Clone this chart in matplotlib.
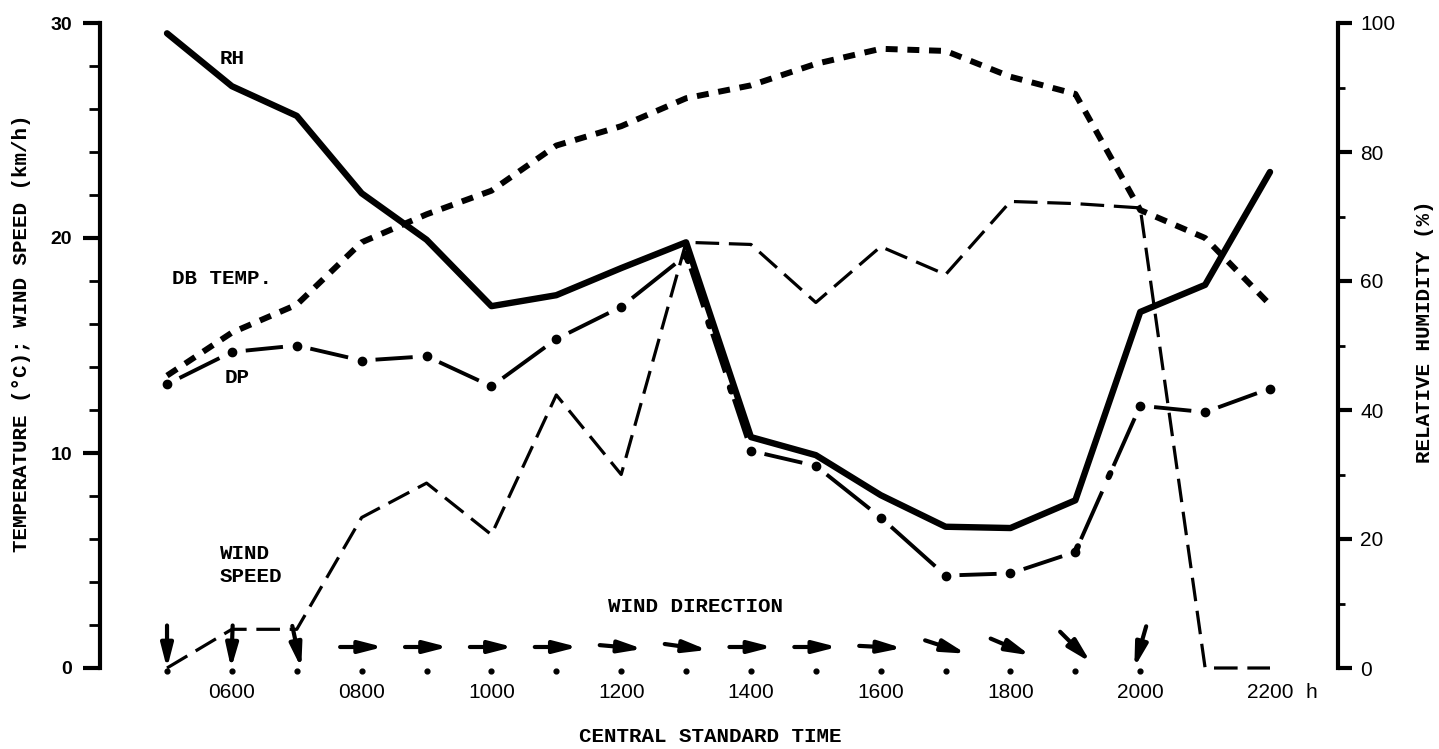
import matplotlib
matplotlib.use('Agg')
import matplotlib.pyplot as plt
from matplotlib.transforms import offset_copy
from matplotlib.ticker import MultipleLocator, FixedLocator
import numpy as np

# ---------------- data ----------------
hours = list(range(5, 23))  # 0500 ... 2200 CST
rh = [98.4, 90.2, 85.6, 73.6, 66.4, 56.1, 57.8, 62.0, 66.0, 35.8,
      33.0, 26.8, 21.9, 21.7, 26.0, 55.2, 59.4, 76.9]
db_temp = [13.6, 15.6, 16.9, 19.8, 21.1, 22.2, 24.3, 25.2, 26.5, 27.1,
           28.1, 28.8, 28.7, 27.5, 26.7, 21.3, 20.0, 16.9]
dew_point = [13.2, 14.7, 15.0, 14.3, 14.5, 13.1, 15.3, 16.8, 19.2, 10.1,
             9.4, 7.0, 4.3, 4.4, 5.4, 12.2, 11.9, 13.0]
wind_speed = [0.0, 1.8, 1.8, 7.0, 8.6, 6.2, 12.7, 9.0, 19.8, 19.7,
              17.0, 19.6, 18.3, 21.7, 21.6, 21.4, 0.0, 0.0]
# direction each arrow points (deg, 0 = right, -90 = down); None = calm
wind_dir = [-90, -92, -78, 0, 0, 0, 0, -5, -8, 0,
            0, -3, -18, -23, -45, -106, None, None]
xtick_pos = [6, 8, 10, 12, 14, 16, 18, 20, 22]
xtick_labels = ['0600', '0800', '1000', '1200', '1400', '1600', '1800', '2000', '2200']

plt.rcParams['lines.scale_dashes'] = False
MONO = ['Liberation Mono', 'DejaVu Sans Mono']
SANS = ['Liberation Sans', 'DejaVu Sans']

W, H = 1439, 749
fig = plt.figure(figsize=(W / 100, H / 100), dpi=100)
fig.patch.set_facecolor('white')

def fx(px):
    return px / W

def fy(py):
    return 1 - py / H

ax = fig.add_axes([fx(100), fy(668), fx(1338) - fx(100), fy(23) - fy(668)])
ax.set_xlim(3.967, 23.048)
ax.set_ylim(0, 30)
ax2 = ax.twinx()
ax2.set_ylim(0, 100)

for a in (ax, ax2):
    a.spines['top'].set_visible(False)
    a.spines['bottom'].set_visible(False)
    a.patch.set_visible(False)
ax.spines['right'].set_visible(False)
ax2.spines['left'].set_visible(False)
ax.spines['left'].set_linewidth(3)
ax2.spines['right'].set_linewidth(3)

# left axis ticks
ax.yaxis.set_major_locator(FixedLocator([0, 10, 20, 30]))
ax.yaxis.set_minor_locator(MultipleLocator(2))
ax.tick_params(axis='y', which='major', direction='out', length=12, width=3, pad=8)
ax.tick_params(axis='y', which='minor', direction='out', length=8, width=2)
for t in ax.get_yticklabels():
    t.set_fontfamily(SANS)
    t.set_fontweight('bold')
    t.set_fontsize(14)

# right axis ticks
ax2.yaxis.set_major_locator(FixedLocator([0, 20, 40, 60, 80, 100]))
ax2.yaxis.set_minor_locator(FixedLocator([10, 30, 50, 70, 90]))
ax2.tick_params(axis='y', which='major', direction='out', length=10, width=3, pad=6)
ax2.tick_params(axis='y', which='minor', direction='out', length=5, width=2)
for t in ax2.get_yticklabels():
    t.set_fontfamily(SANS)
    t.set_fontsize(15)

# x ticks
ax.set_xticks(xtick_pos)
ax.set_xticklabels(xtick_labels, fontfamily=SANS, fontsize=15)
ax.tick_params(axis='x', length=0, pad=11)

# ---------------- lines ----------------
# RH (solid, thick) on right axis
ax2.plot(hours, rh, color='black', lw=4.6, solid_joinstyle='round',
         solid_capstyle='round', zorder=5)

# DB temperature (short heavy dashes)
ax.plot(hours, db_temp, color='black', lw=4.3, linestyle=(0, (8.6, 7.0)),
        zorder=4)

# wind speed (long dashes)
ax.plot(hours, wind_speed, color='black', lw=2.3, linestyle=(0, (17, 7)),
        clip_on=False, zorder=3)

# dew point: one dash between consecutive points, dots at the points
gap = 10.0
unit = 52.0  # points per dash unit
pts = ax.transData.transform(np.column_stack([hours, dew_point]))
for i in range(len(hours) - 1):
    (x0, y0), (x1, y1) = pts[i], pts[i + 1]
    L = np.hypot(x1 - x0, y1 - y0) * 72 / fig.dpi
    n = max(1, int(round(L / unit)))
    D = max(L / n - 2 * gap, 2.0)
    ax.plot(hours[i:i + 2], dew_point[i:i + 2], color='black', lw=2.8,
            linestyle=(D + gap + 0.1, (D, gap, 0.1, gap)),
            dash_capstyle='butt', zorder=4)
    if n > 1:
        # small dot inside long dashed segments (drawn by a second pattern)
        ax.plot(hours[i:i + 2], dew_point[i:i + 2], color='black', lw=4.5,
                linestyle=(D + 2 * gap + 0.1 - 1.5, (3.0, D + 2 * gap - 3.0)),
                dash_capstyle='round', zorder=4)
ax.plot(hours, dew_point, linestyle='none', marker='o', markersize=6,
        color='black', zorder=6)

# ---------------- wind direction arrows ----------------
trans = ax.get_xaxis_transform()
yf = (668 - 647) / 645
Lh = 15.5
for h, ang in zip(hours, wind_dir):
    if ang is None:
        continue
    dx = Lh * np.cos(np.radians(ang))
    dy = Lh * np.sin(np.radians(ang))
    ax.annotate('', xy=(h, yf),
                xycoords=offset_copy(trans, fig=fig, x=dx, y=dy, units='points'),
                xytext=(h, yf),
                textcoords=offset_copy(trans, fig=fig, x=-dx, y=-dy, units='points'),
                arrowprops=dict(arrowstyle='-|>,head_length=0.7,head_width=0.18',
                                lw=3, color='black', mutation_scale=20,
                                shrinkA=0, shrinkB=0),
                annotation_clip=False)
dot_hours = [h for h, a in zip(hours, wind_dir) if a is not None]
ax.scatter(dot_hours, [-0.004] * len(dot_hours), transform=trans, s=12,
           color='black', clip_on=False, zorder=6)

# ---------------- text ----------------
tk = dict(fontfamily=MONO, fontweight='bold', fontsize=15, color='black')
fig.text(fx(232), fy(58), 'RH', ha='center', va='center', **tk)
fig.text(fx(172), fy(278), 'DB TEMP.', ha='left', va='center', **tk)
fig.text(fx(225), fy(377), 'DP', ha='left', va='center', **tk)
fig.text(fx(220), fy(565), 'WIND\nSPEED', ha='left', va='center',
         linespacing=1.25, **tk)
fig.text(fx(695), fy(606), 'WIND DIRECTION', ha='center', va='center', **tk)
fig.text(fx(710), fy(737), 'CENTRAL STANDARD TIME', ha='center', va='center', **tk)
fig.text(fx(1311), fy(693), 'h', ha='center', va='center',
         fontfamily=SANS, fontsize=15)
fig.text(fx(22), fy(333), 'TEMPERATURE (°C); WIND SPEED (km/h)', rotation=90,
         ha='center', va='center', **tk)
fig.text(fx(1425), fy(332), 'RELATIVE HUMIDITY (%)', rotation=90,
         ha='center', va='center', **tk)

fig.savefig('out.png', dpi=100, facecolor='white')
